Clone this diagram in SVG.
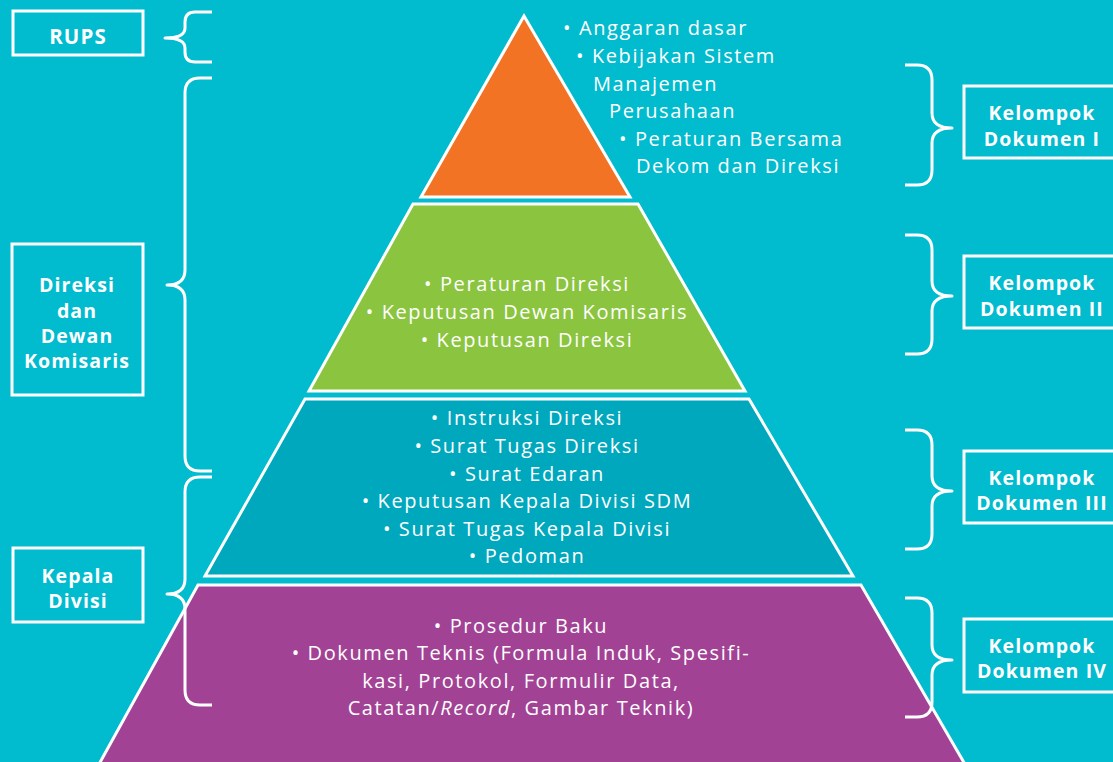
<svg xmlns="http://www.w3.org/2000/svg" width="1113" height="762" viewBox="0 0 1113 762">
<style>
.bg{fill:#01BBCE}
.lvl{stroke:#fff;stroke-width:3;stroke-linejoin:miter}
.box{fill:none;stroke:#fff;stroke-width:3}
.brace{fill:none;stroke:#fff;stroke-width:3;stroke-linecap:butt;stroke-linejoin:round}
.t{font-family:"Open Sans","Liberation Sans",sans-serif;font-size:20px;fill:#fff;letter-spacing:1.6px}
.c{text-anchor:middle}
.lb{font-family:"Open Sans","Liberation Sans",sans-serif;font-size:19.5px;font-weight:700;fill:#fff;text-anchor:middle;letter-spacing:1.1px}
</style>
<rect class="bg" x="0" y="0" width="1113" height="762"/>

<g id="level1">
<polygon class="lvl" fill="#F37325" points="524,16 630,197 421,197"/>
</g>
<g id="level1-text">
<text class="t" x="563" y="35">• Anggaran dasar</text>
<text class="t" x="576" y="63">• Kebijakan Sistem</text>
<text class="t" x="593" y="91">Manajemen</text>
<text class="t" x="609" y="118">Perusahaan</text>
<text class="t" x="619" y="146">• Peraturan Bersama</text>
<text class="t" x="636" y="173">Dekom dan Direksi</text>
</g>

<g id="level2">
<polygon class="lvl" fill="#8BC53F" points="413,204 638,204 745,391 309,391"/>
<text class="t c" x="527" y="291">• Peraturan Direksi</text>
<text class="t c" x="527" y="319">• Keputusan Dewan Komisaris</text>
<text class="t c" x="527" y="347">• Keputusan Direksi</text>
</g>

<g id="level3">
<polygon class="lvl" fill="#00A8BE" points="305,399 749,399 853,576 205,576"/>
<text class="t c" x="527" y="425">• Instruksi Direksi</text>
<text class="t c" x="527" y="453">• Surat Tugas Direksi</text>
<text class="t c" x="527" y="481">• Surat Edaran</text>
<text class="t c" x="527" y="508">• Keputusan Kepala Divisi SDM</text>
<text class="t c" x="527" y="536">• Surat Tugas Kepala Divisi</text>
<text class="t c" x="527" y="563">• Pedoman</text>
</g>

<g id="level4">
<polygon class="lvl" fill="#A24295" points="198,585 861,585 966,766 98,766"/>
<text class="t c" x="521" y="633">• Prosedur Baku</text>
<text class="t c" x="521" y="660">• Dokumen Teknis (Formula Induk, Spesifi-</text>
<text class="t c" x="521" y="688">kasi, Protokol, Formulir Data,</text>
<text class="t c" x="521" y="715">Catatan/<tspan font-style="italic">Record</tspan>, Gambar Teknik)</text>
</g>

<g id="rups">
<rect class="box" x="13" y="11" width="130" height="44"/>
<text class="lb" x="78" y="44" style="font-size:20.5px">RUPS</text>
</g>
<g id="direksi-dekom">
<rect class="box" x="12" y="244" width="131" height="151"/>
<text class="lb" x="77" y="292">Direksi</text>
<text class="lb" x="77" y="318">dan</text>
<text class="lb" x="77" y="343">Dewan</text>
<text class="lb" x="77" y="368">Komisaris</text>
</g>
<g id="kepala-divisi">
<rect class="box" x="13" y="548" width="130" height="74"/>
<text class="lb" x="78" y="583">Kepala</text>
<text class="lb" x="78" y="608">Divisi</text>
</g>
<g id="kelompok1">
<rect class="box" x="964" y="86" width="160" height="72"/>
<text class="lb" x="1042" y="120">Kelompok</text>
<text class="lb" x="1042" y="146">Dokumen I</text>
</g>
<g id="kelompok2">
<rect class="box" x="964" y="256" width="160" height="72"/>
<text class="lb" x="1042" y="290">Kelompok</text>
<text class="lb" x="1042" y="316">Dokumen II</text>
</g>
<g id="kelompok3">
<rect class="box" x="964" y="451" width="160" height="72"/>
<text class="lb" x="1042" y="485">Kelompok</text>
<text class="lb" x="1042" y="510">Dokumen III</text>
</g>
<g id="kelompok4">
<rect class="box" x="964" y="619" width="160" height="73"/>
<text class="lb" x="1042" y="653">Kelompok</text>
<text class="lb" x="1042" y="678">Dokumen IV</text>
</g>

<g id="connectors">
<path class="brace" d="M212,12 H195 Q185,12 185,22 V28 Q185,38 165,38 Q185,38 185,48 V52 Q185,62 195,62 H212"/>
<path class="brace" d="M212,78 H200 Q185,78 185,93 V270 Q185,285 167,285 Q185,285 185,300 V456 Q185,471 200,471 H212"/>
<path class="brace" d="M212,477 H200 Q185,477 185,492 V579 Q185,594 167,594 Q185,594 185,609 V690 Q185,705 200,705 H212"/>
<path class="brace" d="M905,65 H917 Q932,65 932,80 V113 Q932,128 952,128 Q932,128 932,143 V170 Q932,185 917,185 H905"/>
<path class="brace" d="M905,235 H917 Q932,235 932,250 V281 Q932,296 952,296 Q932,296 932,311 V339 Q932,354 917,354 H905"/>
<path class="brace" d="M905,430 H917 Q932,430 932,445 V476 Q932,491 952,491 Q932,491 932,506 V534 Q932,549 917,549 H905"/>
<path class="brace" d="M905,598 H917 Q932,598 932,613 V645 Q932,660 952,660 Q932,660 932,675 V702 Q932,717 917,717 H905"/>
</g>
</svg>
